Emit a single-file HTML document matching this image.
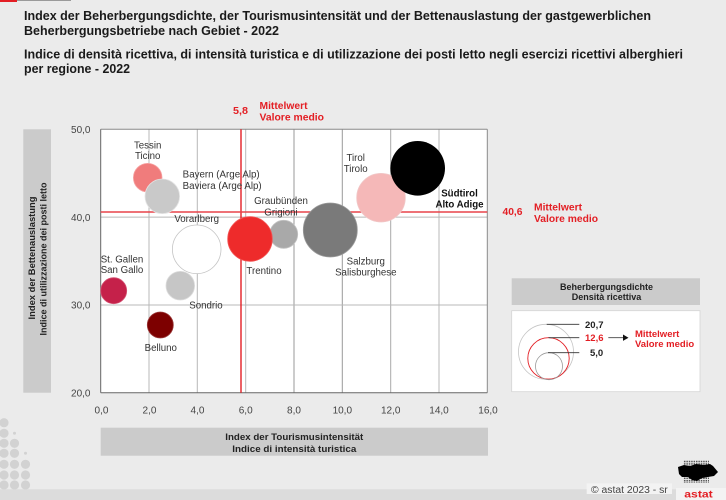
<!DOCTYPE html>
<html><head><meta charset="utf-8"><style>
html,body{margin:0;padding:0;background:#ebebeb;}
svg{display:block;font-family:"Liberation Sans",Arial,sans-serif;}
</style></head><body>
<svg width="726" height="500" viewBox="0 0 726 500" xmlns="http://www.w3.org/2000/svg">
<defs>
<pattern id="dots" width="2.4" height="2.4" patternUnits="userSpaceOnUse"><rect width="1.5" height="1.5" fill="#555"/></pattern>
</defs>
<rect width="726" height="500" fill="#ebebeb"/>
<rect x="0" y="0" width="17" height="2" fill="#e31e24"/>
<rect x="17" y="0" width="54" height="1" fill="#9a9a9a"/>

<!-- Titles -->
<g font-weight="bold" font-size="12.5" fill="#1a1a1a">
<text x="24" y="20" textLength="627" lengthAdjust="spacingAndGlyphs">Index der Beherbergungsdichte, der Tourismusintensität und der Bettenauslastung der gastgewerblichen</text>
<text x="24" y="35" textLength="255" lengthAdjust="spacingAndGlyphs">Beherbergungsbetriebe nach Gebiet - 2022</text>
<text x="24" y="58.5" textLength="659" lengthAdjust="spacingAndGlyphs">Indice di densità ricettiva, di intensità turistica e di utilizzazione dei posti letto negli esercizi ricettivi alberghieri</text>
<text x="24" y="73" textLength="106" lengthAdjust="spacingAndGlyphs">per regione - 2022</text>
</g>

<!-- Top mean annotation -->
<g fill="#e31e24" font-weight="bold" font-size="10">
<text x="233" y="114" textLength="15" lengthAdjust="spacingAndGlyphs">5,8</text>
<text x="259.5" y="109" textLength="48" lengthAdjust="spacingAndGlyphs">Mittelwert</text>
<text x="259.5" y="120.5" textLength="64.5" lengthAdjust="spacingAndGlyphs">Valore medio</text>
<text x="502.5" y="215" textLength="20" lengthAdjust="spacingAndGlyphs">40,6</text>
<text x="534" y="210.5" textLength="48" lengthAdjust="spacingAndGlyphs">Mittelwert</text>
<text x="534" y="222" textLength="64" lengthAdjust="spacingAndGlyphs">Valore medio</text>
</g>

<!-- Y axis label box -->
<rect x="23.3" y="129.3" width="27.7" height="263.4" fill="#cbcbcb"/>
<g font-weight="bold" font-size="9.5" fill="#222" text-anchor="middle">
<text transform="translate(35.2,258) rotate(-90)" textLength="123" lengthAdjust="spacingAndGlyphs">Index der Bettenauslastung</text>
<text transform="translate(46.5,259) rotate(-90)" textLength="153" lengthAdjust="spacingAndGlyphs">Indice di utilizzazione dei posti letto</text>
</g>

<!-- Plot area -->
<rect x="100.7" y="129.3" width="386.6" height="263.4" fill="#ffffff"/>
<g stroke="#b8b8b8" stroke-width="1">
<line x1="149" y1="129.3" x2="149" y2="392.7"/>
<line x1="197.3" y1="129.3" x2="197.3" y2="392.7"/>
<line x1="245.7" y1="129.3" x2="245.7" y2="392.7"/>
<line x1="294" y1="129.3" x2="294" y2="392.7" stroke="#9a9a9a"/>
<line x1="342.3" y1="129.3" x2="342.3" y2="392.7" stroke="#9a9a9a"/>
<line x1="390.7" y1="129.3" x2="390.7" y2="392.7" stroke="#a8a8a8"/>
<line x1="439" y1="129.3" x2="439" y2="392.7"/>
<line x1="100.7" y1="217.1" x2="487.3" y2="217.1"/>
<line x1="100.7" y1="305" x2="487.3" y2="305"/>
</g>
<!-- Axes border -->
<g stroke="#8a8a8a" stroke-width="1" fill="none">
<line x1="100.7" y1="129.3" x2="487.3" y2="129.3"/>
<line x1="487.3" y1="129.3" x2="487.3" y2="392.7"/>
<line x1="100.7" y1="129.3" x2="100.7" y2="392.7" stroke="#666"/>
<line x1="100.7" y1="392.7" x2="487.3" y2="392.7" stroke="#666"/>
</g>
<!-- Mean lines -->
<line x1="241" y1="129.3" x2="241" y2="392.7" stroke="#e31e24" stroke-width="1.4"/>
<line x1="100.7" y1="212" x2="487.3" y2="212" stroke="#e8434a" stroke-width="1.4"/>

<!-- Bubbles -->
<circle cx="147.7" cy="177.7" r="14.3" fill="#f07c7c" stroke="#f6a3a3" stroke-width="0.8"/>
<circle cx="162.3" cy="196.3" r="17.3" fill="#c9c9c9" stroke="#e4e4e4" stroke-width="0.8"/>
<circle cx="196.7" cy="249.3" r="24.3" fill="#ffffff" stroke="#c4c4c4" stroke-width="0.8"/>
<circle cx="283.7" cy="234.3" r="14" fill="#a9a9a9" stroke="#c2c2c2" stroke-width="0.8"/>
<circle cx="250" cy="239" r="22.3" fill="#ee2b2b" stroke="#f25454" stroke-width="0.8"/>
<circle cx="113.7" cy="290.7" r="13" fill="#c5214a" stroke="#d45474" stroke-width="0.8"/>
<circle cx="180.3" cy="285.7" r="14.3" fill="#c6c6c6" stroke="#dcdcdc" stroke-width="0.8"/>
<circle cx="160.3" cy="325" r="13" fill="#7d0000" stroke="#9a3a3a" stroke-width="0.8"/>
<circle cx="330.3" cy="230" r="27" fill="#7a7a7a" stroke="#9a9a9a" stroke-width="0.8"/>
<circle cx="381" cy="197.7" r="24.3" fill="#f5b8b8" stroke="#f0c8c8" stroke-width="0.8"/>
<circle cx="417.7" cy="168.3" r="27.3" fill="#000000"/>

<!-- Bubble labels -->
<g font-size="9.7" fill="#333">
<text x="147.7" y="148.5" text-anchor="middle">Tessin</text>
<text x="147.7" y="159" text-anchor="middle">Ticino</text>
<text x="182.7" y="177.5" textLength="77" lengthAdjust="spacingAndGlyphs">Bayern (Arge Alp)</text>
<text x="182.7" y="188.8" textLength="79" lengthAdjust="spacingAndGlyphs">Baviera (Arge Alp)</text>
<text x="196.7" y="221.8" text-anchor="middle">Vorarlberg</text>
<text x="281" y="204.2" text-anchor="middle">Graubünden</text>
<text x="281" y="215.7" text-anchor="middle">Grigioni</text>
<text x="264" y="274.2" text-anchor="middle">Trentino</text>
<text x="100.7" y="262.5">St. Gallen</text>
<text x="100.7" y="272.8">San Gallo</text>
<text x="206" y="308.5" text-anchor="middle">Sondrio</text>
<text x="160.8" y="350.8" text-anchor="middle">Belluno</text>
<text x="355.7" y="161.2" text-anchor="middle">Tirol</text>
<text x="355.7" y="171.8" text-anchor="middle">Tirolo</text>
<text x="365.8" y="264.5" text-anchor="middle">Salzburg</text>
<text x="365.8" y="275.5" text-anchor="middle">Salisburghese</text>
<text x="459.5" y="196.5" text-anchor="middle" font-weight="bold" fill="#111">Südtirol</text>
<text x="459.5" y="207.5" text-anchor="middle" font-weight="bold" fill="#111">Alto Adige</text>
</g>

<!-- Y tick labels -->
<g font-size="10" fill="#444" text-anchor="end">
<text x="90.5" y="133">50,0</text>
<text x="90.5" y="220.8">40,0</text>
<text x="90.5" y="308.7">30,0</text>
<text x="90.5" y="396.4">20,0</text>
</g>
<!-- X tick labels -->
<g font-size="10" fill="#444" text-anchor="middle">
<text x="101.5" y="413.7">0,0</text>
<text x="149.5" y="413.7">2,0</text>
<text x="197.5" y="413.7">4,0</text>
<text x="245.7" y="413.7">6,0</text>
<text x="294" y="413.7">8,0</text>
<text x="342.3" y="413.7">10,0</text>
<text x="390.7" y="413.7">12,0</text>
<text x="439" y="413.7">14,0</text>
<text x="488" y="413.7">16,0</text>
</g>

<!-- X axis label box -->
<rect x="100.7" y="427.7" width="387.3" height="28" fill="#cbcbcb"/>
<g font-weight="bold" font-size="9.5" fill="#222" text-anchor="middle">
<text x="294.3" y="440" textLength="138" lengthAdjust="spacingAndGlyphs">Index der Tourismusintensität</text>
<text x="294.3" y="451.8" textLength="124" lengthAdjust="spacingAndGlyphs">Indice di intensità turistica</text>
</g>

<!-- Legend -->
<rect x="511.7" y="278.3" width="188.3" height="26.7" fill="#cbcbcb"/>
<g font-weight="bold" font-size="9" fill="#222" text-anchor="middle">
<text x="606.5" y="290">Beherbergungsdichte</text>
<text x="606.5" y="300">Densità ricettiva</text>
</g>
<rect x="511.7" y="310.7" width="188.3" height="81" fill="#ffffff" stroke="#d4d4d4" stroke-width="0.8"/>
<circle cx="546" cy="351.8" r="27.5" fill="none" stroke="#c4c4c4" stroke-width="0.8"/>
<circle cx="548.5" cy="358.4" r="20.7" fill="none" stroke="#e31e24" stroke-width="0.9"/>
<circle cx="549" cy="366.2" r="13.5" fill="none" stroke="#9a9a9a" stroke-width="0.8"/>
<g stroke="#333" stroke-width="0.8">
<line x1="546.7" y1="324.3" x2="579.3" y2="324.3"/>
<line x1="548.5" y1="337.7" x2="579.3" y2="337.7"/>
<line x1="548" y1="352.7" x2="579.3" y2="352.7"/>
<line x1="608.3" y1="337.7" x2="623" y2="337.7"/>
</g>
<polygon points="623,334.5 628.5,337.7 623,340.9" fill="#111"/>
<g font-weight="bold" font-size="9.5">
<text x="585" y="327.8" fill="#222">20,7</text>
<text x="585" y="341.2" fill="#e31e24">12,6</text>
<text x="590" y="356.2" fill="#222">5,0</text>
<text x="635" y="336.8" fill="#e31e24">Mittelwert</text>
<text x="635" y="346.8" fill="#e31e24">Valore medio</text>
</g>

<!-- Left decorative dots -->
<g fill="#d2d2d2">
<circle cx="4" cy="422.7" r="4.6"/>
<circle cx="4" cy="433.3" r="4.6"/><circle cx="14.5" cy="433.3" r="1.5"/>
<circle cx="4" cy="443.3" r="4.6"/><circle cx="14.5" cy="443.3" r="4.6"/>
<circle cx="4" cy="453.3" r="4.6"/><circle cx="14.5" cy="453.3" r="4.6"/><circle cx="25.5" cy="453.3" r="1.5"/>
<circle cx="4" cy="464.3" r="4.6"/><circle cx="14.5" cy="464.3" r="4.6"/><circle cx="25.5" cy="464.3" r="4.6"/>
<circle cx="4" cy="475" r="4.6"/><circle cx="14.5" cy="475" r="4.6"/><circle cx="25.5" cy="475" r="4.6"/>
<circle cx="4" cy="485" r="4.6"/><circle cx="14.5" cy="485" r="4.6"/><circle cx="25.5" cy="485" r="4.6"/>
</g>

<!-- Footer -->
<rect x="0" y="489.3" width="726" height="10.7" fill="#dcdcdc"/>
<rect x="586.7" y="483.3" width="85.3" height="10.7" fill="#f3f3f3"/>
<text x="591" y="492.8" font-size="10" fill="#444" textLength="76.7" lengthAdjust="spacingAndGlyphs">© astat 2023 - sr</text>
<rect x="676" y="488" width="50" height="12" fill="#f3f3f3"/>
<rect x="683" y="460" width="26" height="23" fill="url(#dots)"/>
<path d="M678,467 L684,465 L690,466 L696,464 L704,465 L710,464 L713,466 L718,472 L714,476 L708,477 L702,478 L697,481 L692,480 L688,477 L682,477 L679,474 Z" fill="#000"/>
<text x="698.5" y="497.5" font-size="10" font-weight="bold" fill="#e31e24" text-anchor="middle" textLength="28.5" lengthAdjust="spacingAndGlyphs">astat</text>
</svg>
</body></html>
